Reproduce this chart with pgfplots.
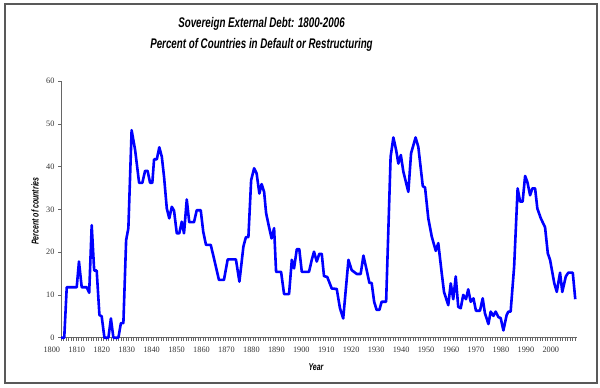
\documentclass[border=0pt]{standalone}
\usepackage{fontspec}
\setmainfont{Liberation Serif}
\newfontfamily\tf[FakeStretch=0.7]{Liberation Sans}
\usepackage{pgfplots}
\pgfplotsset{compat=1.18}
\begin{document}
\begin{tikzpicture}[x=1bp,y=1bp]
\path (0,0) rectangle (600,387);
\draw[black!65, line width=1.2bp] (5,4) rectangle (597,383);
\begin{axis}[
  at={(61bp,49.3bp)}, anchor=south west,
  scale only axis, width=516bp, height=256.7bp,
  xmin=1800, xmax=2006.8, ymin=0, ymax=60,
  axis lines=left,
  axis line style={-, black!60, line width=0.8bp},
  tick align=outside,
  major tick length=3bp,
  minor tick length=3bp,
  every tick/.style={black!60, line width=0.5bp},
  xtick={1800,1810,...,2000},
  minor xtick={1800,1801,...,2006},
  x tick label style={xshift=-9.2bp, yshift=-3bp},
  ytick={0,10,...,60},
  /pgf/number format/assume math mode=true,
  /pgf/number format/1000 sep={},
  ticklabel style={font=\fontsize{8.3}{9}\selectfont, text=black!80},
  clip=false,
]
\addplot[blue, line width=2.6bp, line join=round] coordinates {
(1800,0) (1801.3,0) (1802.3,11.8) (1806.3,11.8) (1807.2,17.8) (1808.3,11.8)
(1810.3,11.8) (1811.3,10.5) (1812.3,26.3) (1813.3,15.7) (1814.3,15.7) (1815.4,5.3)
(1816.3,5.0) (1817.4,0) (1819.0,0) (1820.0,4.5) (1821.0,0) (1823.0,0) (1824.0,3.4)
(1825.0,3.4) (1826.1,22.8) (1827.0,25.6) (1828.3,48.5) (1829.7,43.9) (1831.3,36.2)
(1832.6,36.2) (1833.7,39) (1834.7,39) (1835.7,36.2) (1836.6,36.2) (1837.3,41.7)
(1838.4,41.7) (1839.4,44.5) (1840.4,42.3) (1841.3,37.6) (1842.4,30.2) (1843.4,27.9)
(1844.4,30.6) (1845.3,29.7) (1846.4,24.4) (1847.4,24.4) (1848.4,27.1) (1849.3,24.4)
(1850.4,32.3) (1851.4,27) (1853.3,27) (1854.4,29.8) (1856.0,29.8) (1857.0,24.8)
(1858.1,21.7) (1860.0,21.7) (1861.0,19.3) (1863.3,13.5) (1865.3,13.5) (1866.8,18.3)
(1870.1,18.3) (1871.5,13.1) (1873.1,21.3) (1874.1,23.5) (1875.1,23.5) (1876.2,36.8)
(1877.4,39.6) (1878.4,38.4) (1879.5,33.7) (1880.4,35.9) (1881.4,34.1) (1882.2,29.1)
(1883.4,25.8) (1884.4,23.2) (1885.4,25.6) (1886.2,15.4) (1888.2,15.4) (1889.4,10.2)
(1891.4,10.2) (1892.5,18.2) (1893.4,16.2) (1894.5,20.7) (1895.5,20.7) (1896.5,15.4)
(1899.4,15.4) (1900.5,18.2) (1901.4,20.1) (1902.5,17.8) (1903.5,19.6) (1904.5,19.6)
(1905.4,14.4) (1906.7,14.2) (1908.5,11.5) (1910.5,11.4) (1911.8,6.9) (1913.1,4.5)
(1915.2,18.2) (1916.5,15.8) (1918.5,14.9) (1920.1,14.9) (1921.2,19.2) (1922.5,15.8)
(1923.6,12.8) (1924.5,12.8) (1925.5,8.4) (1926.5,6.5) (1927.6,6.5) (1928.5,8.4)
(1930.3,8.4) (1932.1,42.3) (1933.2,46.8) (1934.3,43.9) (1935.2,40.7) (1936.2,42.7)
(1937.2,38.8) (1939.2,34.1) (1940.3,43.1) (1942.1,46.8) (1943.2,44.6) (1945.0,35.4)
(1945.9,35.1) (1947.2,27.9) (1948.6,23.6) (1950.2,20.3) (1951.2,22.1) (1952.6,15)
(1953.5,10.7) (1955.2,7.6) (1956.2,12.7) (1957.2,9) (1958.2,14.3) (1959.2,7.2)
(1960.2,6.9) (1961.2,10) (1962.3,9) (1963.2,11.3) (1964.2,8.4) (1965.3,9.2)
(1966.3,6.3) (1967.9,6.3) (1969.0,9.2) (1969.9,5.7) (1971.3,3.2) (1972.2,6.1)
(1973.3,5.1) (1974.2,6.1) (1975.3,4.8) (1976.2,4.6) (1977.3,1.7) (1978.6,5.3)
(1979.3,6.1) (1980.2,6.1) (1981.6,16.6) (1983.0,34.9) (1984.0,31.8) (1985.0,31.8)
(1986.0,37.8) (1986.9,36.4) (1988.0,33.3) (1988.9,34.9) (1990.0,34.9) (1990.9,30.2)
(1992.3,27.9) (1994.0,25.8) (1995.1,19.7) (1996.0,18.2) (1997.7,12.7) (1998.7,10.7)
(2000.0,15.2) (2000.9,10.7) (2002.3,14.3) (2003.3,15.2) (2005.1,15.2) (2006.1,9)
};
\end{axis}
\node[font=\tf\bfseries\itshape\fontsize{14}{16}\selectfont] at (261.5,363) {Sovereign External Debt: 1800-2006};
\node[font=\tf\bfseries\itshape\fontsize{14}{16}\selectfont] at (261.5,342) {Percent of Countries in Default or Restructuring};
\node[font=\tf\bfseries\itshape\fontsize{10}{11}\selectfont, rotate=90] at (35,176) {Percent of countries};
\node[font=\tf\bfseries\itshape\fontsize{10}{11}\selectfont] at (316,19.5) {Year};
\end{tikzpicture}
\end{document}
